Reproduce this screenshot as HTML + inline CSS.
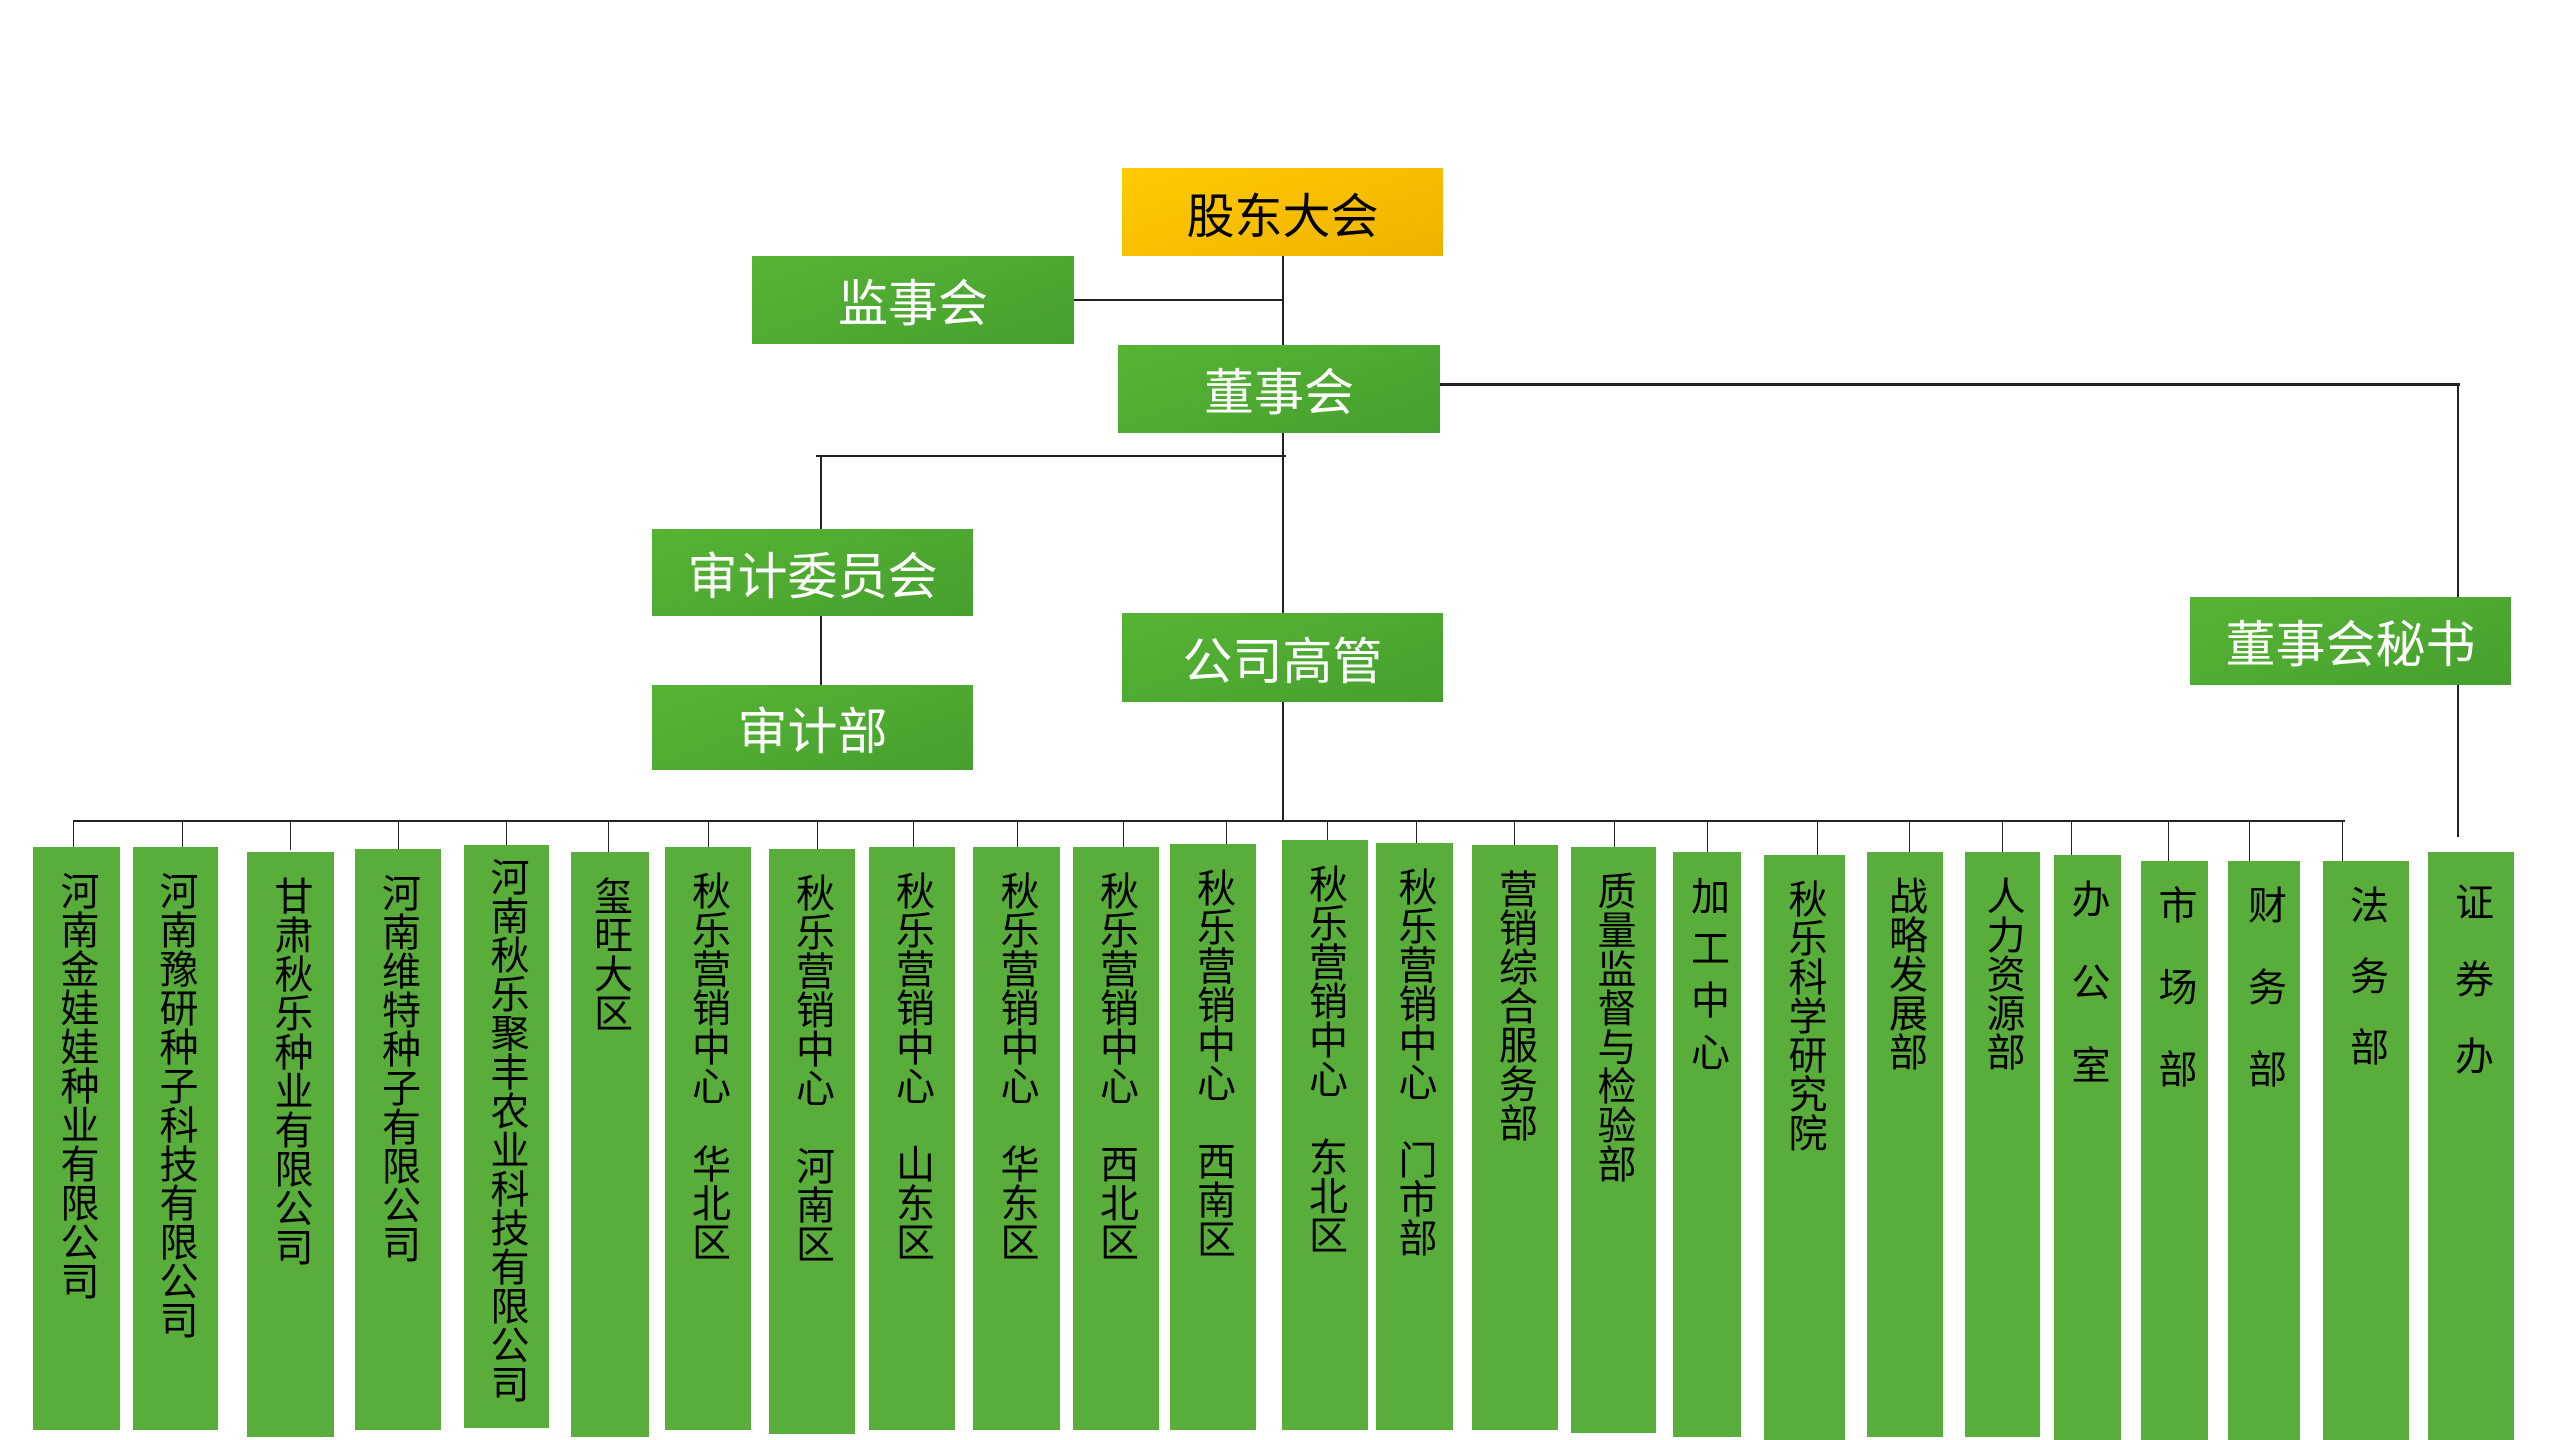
<!DOCTYPE html>
<html><head><meta charset="utf-8"><style>
body{margin:0;width:2560px;height:1440px;background:#fff;position:relative;overflow:hidden;font-family:"Liberation Sans","Noto Sans CJK SC",sans-serif;}
.t{position:absolute;display:flex;align-items:center;justify-content:center;color:#fff;font-size:50px;background:linear-gradient(160deg,#56b434,#46a02e);}
.g{background:linear-gradient(160deg,#ffcb00,#efb200);color:#000;}
.b{position:absolute;background:#58ad3b;color:#000;font-size:39px;writing-mode:vertical-rl;text-orientation:upright;box-sizing:border-box;padding-top:24px;display:flex;align-items:center;justify-content:flex-start;line-height:1;}
.l{position:absolute;background:#222;}
</style></head><body>
<!-- lines -->
<div class="l" style="left:1282px;top:256px;width:2px;height:565px"></div>
<div class="l" style="left:1074px;top:299px;width:209px;height:2px"></div>
<div class="l" style="left:816px;top:455px;width:470px;height:2px"></div>
<div class="l" style="left:820px;top:456px;width:2px;height:73px"></div>
<div class="l" style="left:820px;top:616px;width:2px;height:69px"></div>
<div class="l" style="left:1440px;top:383px;width:1020px;height:3px"></div>
<div class="l" style="left:2457px;top:383px;width:2px;height:214px"></div>
<div class="l" style="left:2457px;top:685px;width:2px;height:152px"></div>
<div class="l" style="left:73px;top:820px;width:2272px;height:2px"></div>
<div class="l" style="left:73px;top:820px;width:1px;height:27px"></div>
<div class="l" style="left:182px;top:820px;width:1px;height:27px"></div>
<div class="l" style="left:290px;top:820px;width:1px;height:30px"></div>
<div class="l" style="left:398px;top:820px;width:1px;height:30px"></div>
<div class="l" style="left:506px;top:820px;width:1px;height:27px"></div>
<div class="l" style="left:608px;top:820px;width:1px;height:32px"></div>
<div class="l" style="left:708px;top:820px;width:1px;height:27px"></div>
<div class="l" style="left:817px;top:820px;width:1px;height:30px"></div>
<div class="l" style="left:913px;top:820px;width:1px;height:30px"></div>
<div class="l" style="left:1017px;top:820px;width:1px;height:27px"></div>
<div class="l" style="left:1123px;top:820px;width:1px;height:27px"></div>
<div class="l" style="left:1226px;top:820px;width:1px;height:27px"></div>
<div class="l" style="left:1327px;top:820px;width:1px;height:20px"></div>
<div class="l" style="left:1416px;top:820px;width:1px;height:23px"></div>
<div class="l" style="left:1514px;top:820px;width:1px;height:25px"></div>
<div class="l" style="left:1614px;top:820px;width:1px;height:27px"></div>
<div class="l" style="left:1707px;top:820px;width:1px;height:32px"></div>
<div class="l" style="left:1817px;top:820px;width:1px;height:35px"></div>
<div class="l" style="left:1909px;top:820px;width:1px;height:32px"></div>
<div class="l" style="left:2002px;top:820px;width:1px;height:32px"></div>
<div class="l" style="left:2071px;top:820px;width:1px;height:35px"></div>
<div class="l" style="left:2168px;top:820px;width:1px;height:41px"></div>
<div class="l" style="left:2249px;top:820px;width:1px;height:41px"></div>
<div class="l" style="left:2342px;top:820px;width:1px;height:41px"></div>
<!-- top boxes -->
<div class="t g" style="left:1122px;top:168px;width:321px;height:88px;font-size:48px">股东大会</div>
<div class="t" style="left:752px;top:256px;width:322px;height:88px">监事会</div>
<div class="t" style="left:1118px;top:345px;width:322px;height:88px">董事会</div>
<div class="t" style="left:652px;top:529px;width:321px;height:87px">审计委员会</div>
<div class="t" style="left:652px;top:685px;width:321px;height:85px">审计部</div>
<div class="t" style="left:1122px;top:613px;width:321px;height:89px">公司高管</div>
<div class="t" style="left:2190px;top:597px;width:321px;height:88px">董事会秘书</div>
<!-- bottom -->
<div class="b" style="left:33px;top:847px;width:87px;height:583px">河南金娃娃种业有限公司</div>
<div class="b" style="left:133px;top:847px;width:85px;height:583px">河南豫研种子科技有限公司</div>
<div class="b" style="left:247px;top:852px;width:87px;height:585px">甘肃秋乐种业有限公司</div>
<div class="b" style="left:355px;top:849px;width:86px;height:581px">河南维特种子有限公司</div>
<div class="b" style="left:464px;top:845px;width:85px;height:583px;padding-top:12px">河南秋乐聚丰农业科技有限公司</div>
<div class="b" style="left:571px;top:852px;width:78px;height:585px">玺旺大区</div>
<div class="b" style="left:665px;top:847px;width:86px;height:583px">秋乐营销中心　华北区</div>
<div class="b" style="left:769px;top:849px;width:86px;height:585px">秋乐营销中心　河南区</div>
<div class="b" style="left:869px;top:847px;width:86px;height:583px">秋乐营销中心　山东区</div>
<div class="b" style="left:973px;top:847px;width:87px;height:583px">秋乐营销中心　华东区</div>
<div class="b" style="left:1073px;top:847px;width:86px;height:583px">秋乐营销中心　西北区</div>
<div class="b" style="left:1170px;top:844px;width:86px;height:586px">秋乐营销中心　西南区</div>
<div class="b" style="left:1282px;top:840px;width:86px;height:590px">秋乐营销中心　东北区</div>
<div class="b" style="left:1376px;top:843px;width:77px;height:587px">秋乐营销中心　门市部</div>
<div class="b" style="left:1472px;top:845px;width:86px;height:585px">营销综合服务部</div>
<div class="b" style="left:1571px;top:847px;width:85px;height:586px">质量监督与检验部</div>
<div class="b" style="left:1673px;top:852px;width:68px;height:585px;letter-spacing:13px">加工中心</div>
<div class="b" style="left:1764px;top:855px;width:81px;height:585px">秋乐科学研究院</div>
<div class="b" style="left:1867px;top:852px;width:76px;height:585px">战略发展部</div>
<div class="b" style="left:1965px;top:852px;width:75px;height:585px">人力资源部</div>
<div class="b" style="left:2054px;top:855px;width:67px;height:585px;letter-spacing:44px">办公室</div>
<div class="b" style="left:2141px;top:861px;width:67px;height:579px;letter-spacing:43px">市场部</div>
<div class="b" style="left:2228px;top:861px;width:72px;height:579px;letter-spacing:43px">财务部</div>
<div class="b" style="left:2323px;top:861px;width:86px;height:579px;letter-spacing:32px">法务部</div>
<div class="b" style="left:2428px;top:852px;width:86px;height:588px;letter-spacing:38px;padding-top:30px">证券办</div>
</body></html>
